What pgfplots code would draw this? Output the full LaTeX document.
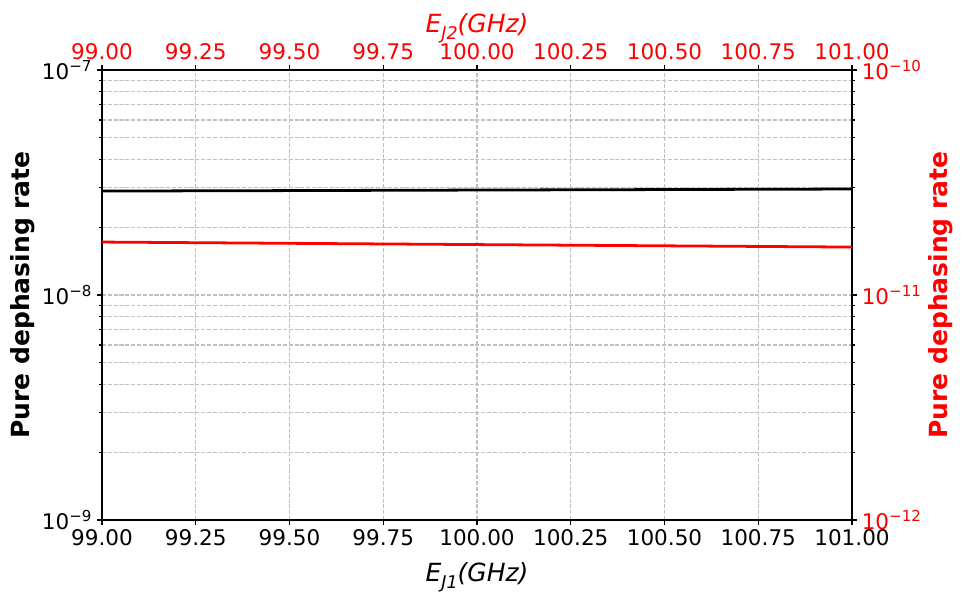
\documentclass[border=0pt]{standalone}
\usepackage{fontspec}
\setmainfont{DejaVu Sans}
\usepackage{pgfplots}
\pgfplotsset{compat=1.18}

\definecolor{gridgray}{RGB}{192,192,192}

\newcommand\tickfont{\fontsize{15.5}{18}\selectfont}
\newcommand\labfont{\fontsize{18}{21}\selectfont}
\newcommand\EJ[1]{\itshape E\raisebox{-0.28em}{\fontsize{12.6}{14}\selectfont\itshape J#1}(GHz)}

\pgfplotsset{
  dephbase/.style={
    scale only axis, width=540pt, height=324pt,
    at={(0,0)}, anchor=south west,
    xmin=99, xmax=101,
    xtick={99,99.25,99.5,99.75,100,100.25,100.5,100.75,101},
    tick align=outside,
    major tick length=3.5pt, minor tick length=2pt,
    every tick/.style={black, line width=0.8pt},
    axis line style={line width=0.8pt},
    ticklabel style={font=\tickfont},
    xticklabel style={/pgf/number format/fixed, /pgf/number format/fixed zerofill, /pgf/number format/precision=2, /pgf/number format/assume math mode=true},
    label style={font=\labfont},
  },
}

\begin{document}
\begin{tikzpicture}
\path[use as bounding box] (-73.44pt,-57.6pt) rectangle (619.92pt,374.4pt);

\begin{axis}[
  ymode=log,
  dephbase,
  ymin=1e-9, ymax=1e-7,
  xtick pos=bottom, ytick pos=left,
  ytick={1e-9,1e-8,1e-7},
  yticklabels={10\textsuperscript{−9},10\textsuperscript{−8},10\textsuperscript{−7}},
  minor ytick={2e-9,3e-9,4e-9,5e-9,6e-9,7e-9,8e-9,9e-9,2e-8,3e-8,4e-8,5e-8,6e-8,7e-8,8e-8,9e-8},
  grid=both,
  major grid style={gridgray, line width=0.8pt, dash pattern=on 2.9pt off 1.3pt},
  minor grid style={gridgray, line width=0.8pt, dash pattern=on 2.9pt off 1.3pt},
  xlabel={\EJ{1}},
  ylabel={\bfseries Pure dephasing rate},
  xlabel style={yshift=-5pt},
  ylabel style={yshift=-2pt},
]
\addplot[black, line width=2pt, no marks] coordinates {
  (99,2.898e-8) (99.5,2.912e-8) (100,2.928e-8) (100.5,2.943e-8) (101,2.959e-8)
};
\end{axis}

\begin{axis}[
  ymode=log,
  dephbase,
  ymin=1e-12, ymax=1e-10,
  xtick pos=top, ytick pos=right,
  axis x line*=top, axis y line*=right,
  ytick={1e-12,1e-11,1e-10},
  yticklabels={10\textsuperscript{−12},10\textsuperscript{−11},10\textsuperscript{−10}},
  minor ytick={2e-12,3e-12,4e-12,5e-12,6e-12,7e-12,8e-12,9e-12,2e-11,3e-11,4e-11,5e-11,6e-11,7e-11,8e-11,9e-11},
  ticklabel style={red},
  xlabel={\EJ{2}},
  ylabel={\bfseries Pure dephasing rate},
  label style={red},
  xlabel style={yshift=-6pt},
  ylabel style={yshift=2pt},
]
\addplot[red, line width=2pt, no marks] coordinates {
  (99,1.720e-11) (99.5,1.698e-11) (100,1.676e-11) (100.5,1.655e-11) (101,1.634e-11)
};
\end{axis}
\end{tikzpicture}
\end{document}
